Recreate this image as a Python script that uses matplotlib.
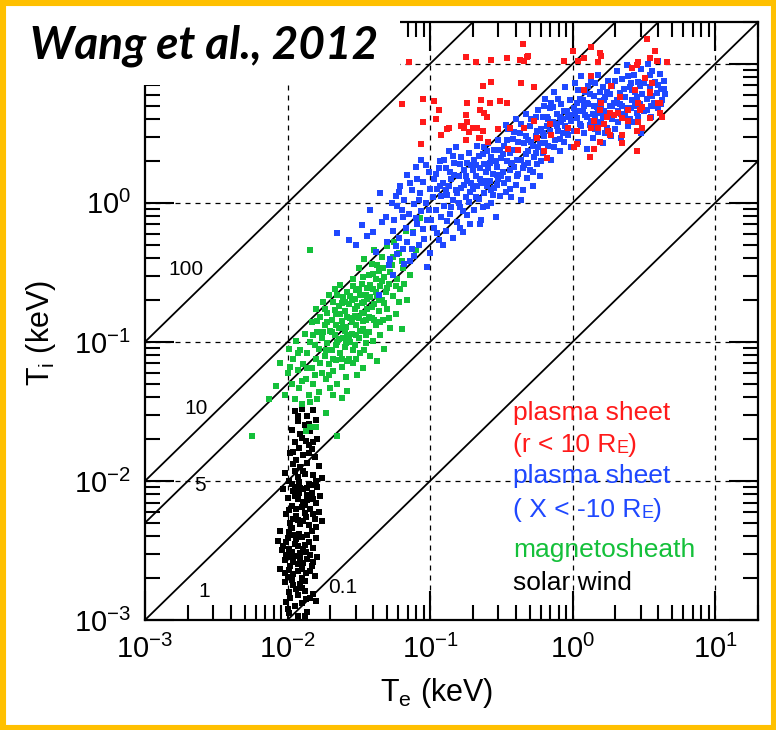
import numpy as np
import matplotlib
matplotlib.use("Agg")
import matplotlib.pyplot as plt
from matplotlib.patches import Rectangle
from matplotlib.ticker import LogLocator, NullFormatter, FixedLocator, FixedFormatter

plt.rcParams['font.family'] = ['Liberation Sans', 'DejaVu Sans']
plt.rcParams['mathtext.fontset'] = 'custom'
plt.rcParams['mathtext.rm'] = 'Liberation Sans'
plt.rcParams['mathtext.it'] = 'Liberation Sans:italic'

# ---------------- data (log10 Te, log10 Ti) in keV ----------------
red_log = [
    (-0.35, 1.14), (-0.75, 1.05), (-0.68, 1.01), (-0.57, 1.03), (-0.46, 1.04), (-0.37, 1.03),
    (-0.32, 1.05), (-0.34, 1.02), (-1.15, 1.01), (-0.57, 0.87), (-0.63, 0.84), (-0.36, 0.86),
    (-1.20, 0.71), (-1.05, 0.75), (-0.97, 0.73), (-0.74, 0.72), (-0.64, 0.74), (-0.58, 0.72),
    (-0.51, 0.73), (-0.46, 0.72), (-0.94, 0.67), (-0.65, 0.67), (-0.62, 0.65), (-0.60, 0.62),
    (-1.05, 0.58), (-0.96, 0.60), (-0.75, 0.63), (-0.74, 0.58), (-0.76, 0.54), (-0.78, 0.55),
    (-0.70, 0.54), (-0.67, 0.54), (-0.63, 0.52), (-0.88, 0.53), (-0.73, 0.51), (-0.52, 0.53),
    (-0.66, 0.47), (-0.92, 0.49), (-0.75, 0.45), (-0.65, 0.47), (-0.59, 0.44), (-1.06, 0.42),
    (-0.44, 0.54), (-0.87, 0.54), (-0.38, 0.38), (-0.45, 0.39), (-0.20, 0.37), (-0.18, 0.32),
    (-0.25, 0.47), (-0.31, 1.06), (-0.06, 1.02), (0.00, 1.09), (0.08, 1.04), (0.13, 1.12),
    (0.19, 1.08), (0.20, 1.06), (0.18, 1.01), (0.04, 1.02), (0.52, 1.18), (0.58, 1.09),
    (0.54, 1.04), (0.59, 1.02), (0.46, 1.01), (0.66, 1.01), (0.45, 0.99), (0.42, 0.97),
    (0.13, 0.91), (0.27, 0.84), (0.08, 0.81), (-0.27, 0.83), (0.51, 0.90), (0.56, 0.86),
    (0.44, 0.81), (0.54, 0.80), (0.33, 0.76), (0.46, 0.72), (0.60, 0.72), (0.20, 0.72),
    (0.19, 0.67), (0.26, 0.65), (0.29, 0.63), (0.32, 0.65), (0.24, 0.62), (0.35, 0.61),
    (0.39, 0.67), (0.47, 0.67), (0.49, 0.69), (0.39, 0.59), (0.15, 0.59), (0.22, 0.57),
    (0.18, 0.54), (0.46, 0.58), (0.54, 0.61), (0.61, 0.65), (-0.03, 0.54), (0.03, 0.52),
    (0.13, 0.54), (0.19, 0.44), (0.35, 0.49), (0.45, 0.52), (0.49, 0.54), (0.25, 0.52),
    (0.26, 0.49), (0.01, 0.40), (-0.15, 0.49), (-0.27, 0.59), (-0.16, 0.57), (-0.34, 0.54),
    (0.45, 0.37), (0.12, 0.33), (0.15, 0.39), (0.03, 0.42), (0.35, 0.43), (0.63, 0.62),
    (0.61, 0.72), (0.54, 0.79),
]

blue_log = [
    (-1.65, -0.22), (-1.57, -0.27), (-1.48, -0.16), (-1.44, -0.24), (-1.40, -0.21), (-1.34, -0.14),
    (-1.27, 0.00), (-1.30, -0.28), (-1.35, 0.07), (-1.38, -0.35), (-1.31, -0.10), (-1.28, -0.40),
    (-1.52, -0.30), (-1.42, -0.05), (-1.36, -0.66), (-1.26, -0.52), (-1.23, -0.37), (-1.29, -0.45),
    (-1.25, -0.12), (-1.24, 0.05), (-1.22, -0.25), (-1.21, 0.12), (-1.20, -0.05), (-1.19, -0.33),
    (-1.18, 0.02), (-1.17, -0.18), (-1.16, 0.20), (-1.15, -0.08), (-1.14, -0.42), (-1.13, 0.09),
    (-1.12, -0.22), (-1.11, -0.01), (-1.10, 0.26), (-1.09, -0.15), (-1.08, -0.30), (-1.07, 0.07),
    (-1.06, -0.06), (-1.05, 0.15), (-1.04, -0.26), (-1.03, 0.00), (-1.02, -0.12), (-1.01, 0.22),
    (-1.00, -0.36), (-1.00, 0.10), (-1.23, -0.02), (-1.13, -0.33), (-1.06, 0.31), (-1.18, -0.44),
    (-1.09, 0.17), (-1.02, -0.46),
    (-1.26, -0.20), (-1.22, 0.08), (-1.19, -0.10), (-1.16, -0.28), (-1.14, 0.14), (-1.11, -0.38),
    (-1.08, 0.02), (-1.05, -0.19), (-1.03, 0.27), (-1.01, -0.05), (-1.24, -0.31), (-1.10, -0.11),
    (-0.98, 0.04), (-0.97, -0.18), (-0.96, 0.21), (-0.96, -0.05), (-0.95, 0.10), (-0.94, -0.27),
    (-0.93, 0.30), (-0.92, -0.10), (-0.91, 0.14), (-0.90, -0.02), (-0.89, 0.25), (-0.89, -0.20),
    (-0.88, 0.06), (-0.87, 0.37), (-0.86, -0.08), (-0.85, 0.17), (-0.84, -0.25), (-0.84, 0.02),
    (-0.83, 0.29), (-0.82, 0.09), (-0.81, -0.14), (-0.80, 0.19), (-0.79, -0.03), (-0.78, 0.33),
    (-0.78, 0.11), (-0.77, -0.21), (-0.76, 0.24), (-0.75, 0.04), (-0.74, -0.09), (-0.74, 0.16),
    (-0.73, 0.36), (-0.72, -0.15), (-0.72, 0.08), (-0.71, 0.27), (-0.93, 0.12), (-0.86, 0.22),
    (-0.80, 0.00), (-0.76, 0.13), (-0.91, -0.30), (-0.82, 0.40),
    (-0.99, -0.12), (-0.97, 0.17), (-0.95, -0.22), (-0.92, 0.05), (-0.90, 0.31), (-0.88, -0.13),
    (-0.87, 0.12), (-0.85, -0.03), (-0.83, 0.20), (-0.81, 0.07), (-0.79, 0.28), (-0.77, -0.06),
    (-0.75, 0.19), (-0.73, 0.01), (-0.71, 0.14), (-0.94, 0.25), (-0.89, 0.09), (-0.84, 0.34),
    (-0.79, -0.18), (-0.74, 0.29),
    (-0.70, 0.10), (-0.69, 0.31), (-0.69, -0.05), (-0.68, 0.19), (-0.67, 0.41), (-0.66, 0.03),
    (-0.65, 0.25), (-0.64, -0.12), (-0.64, 0.14), (-0.63, 0.35), (-0.62, 0.07), (-0.61, 0.22),
    (-0.60, -0.02), (-0.59, 0.43), (-0.58, 0.16), (-0.58, 0.29), (-0.57, 0.00), (-0.56, 0.21),
    (-0.55, 0.38), (-0.55, 0.11), (-0.54, -0.10), (-0.53, 0.26), (-0.52, 0.17), (-0.52, 0.45),
    (-0.51, 0.05), (-0.50, 0.32), (-0.67, 0.12), (-0.62, 0.28), (-0.57, 0.09), (-0.53, 0.20),
    (-0.60, 0.37), (-0.65, -0.15),
    (-0.70, 0.24), (-0.68, 0.04), (-0.66, 0.34), (-0.65, 0.17), (-0.63, -0.03), (-0.62, 0.40),
    (-0.60, 0.12), (-0.59, 0.25), (-0.57, 0.33), (-0.56, 0.06), (-0.54, 0.30), (-0.53, 0.13),
    (-0.51, 0.38), (-0.50, 0.19), (-0.61, 0.16), (-0.68, 0.27),
    (-0.49, 0.22), (-0.48, 0.41), (-0.47, 0.08), (-0.46, 0.30), (-0.45, 0.53), (-0.45, 0.17),
    (-0.44, 0.36), (-0.43, 0.04), (-0.42, 0.46), (-0.41, 0.26), (-0.40, 0.60), (-0.40, 0.13),
    (-0.39, 0.38), (-0.38, 0.21), (-0.37, 0.50), (-0.36, 0.31), (-0.35, 0.09), (-0.34, 0.43),
    (-0.34, 0.27), (-0.33, 0.64), (-0.32, 0.18), (-0.31, 0.37), (-0.30, 0.55), (-0.30, 0.24),
    (-0.29, 0.44), (-0.28, 0.12), (-0.27, 0.33), (-0.26, 0.62), (-0.26, 0.48), (-0.25, 0.28),
    (-0.24, 0.40), (-0.23, 0.19), (-0.22, 0.53), (-0.44, 0.24), (-0.39, 0.31), (-0.33, 0.35),
    (-0.28, 0.41), (-0.36, 0.02), (-0.47, 0.56), (-0.24, 0.67),
    (-0.49, 0.35), (-0.48, 0.14), (-0.46, 0.45), (-0.44, 0.10), (-0.43, 0.29), (-0.41, 0.51),
    (-0.39, 0.19), (-0.38, 0.44), (-0.36, 0.57), (-0.35, 0.25), (-0.33, 0.48), (-0.31, 0.29),
    (-0.29, 0.60), (-0.28, 0.22), (-0.26, 0.36), (-0.25, 0.52), (-0.23, 0.43), (-0.22, 0.30),
    (-0.42, 0.38), (-0.31, 0.45),
    (-0.21, 0.36), (-0.21, 0.62), (-0.20, 0.48), (-0.19, 0.75), (-0.18, 0.55), (-0.17, 0.41),
    (-0.16, 0.68), (-0.15, 0.31), (-0.14, 0.58), (-0.13, 0.80), (-0.12, 0.45), (-0.11, 0.64),
    (-0.10, 0.52), (-0.09, 0.37), (-0.08, 0.71), (-0.07, 0.60), (-0.06, 0.44), (-0.05, 0.83),
    (-0.05, 0.55), (-0.04, 0.66), (-0.03, 0.49), (-0.02, 0.74), (-0.01, 0.40), (-0.01, 0.59),
    (-0.18, 0.62), (-0.12, 0.57), (-0.07, 0.50), (-0.03, 0.62), (-0.15, 0.72), (-0.09, 0.46),
    (-0.21, 0.50), (-0.19, 0.43), (-0.17, 0.60), (-0.16, 0.52), (-0.14, 0.69), (-0.13, 0.40),
    (-0.11, 0.55), (-0.10, 0.75), (-0.08, 0.58), (-0.06, 0.66), (-0.04, 0.52), (-0.02, 0.63),
    (-0.20, 0.70), (-0.09, 0.62),
    (0.01, 0.68), (0.01, 0.52), (0.02, 0.86), (0.03, 0.61), (0.04, 0.44), (0.05, 0.75),
    (0.05, 0.57), (0.06, 0.91), (0.07, 0.66), (0.08, 0.50), (0.09, 0.80), (0.10, 0.62),
    (0.10, 0.39), (0.11, 0.71), (0.12, 0.56), (0.13, 0.87), (0.14, 0.64), (0.14, 0.47),
    (0.15, 0.77), (0.16, 0.60), (0.17, 0.69), (0.18, 0.92), (0.18, 0.51), (0.19, 0.73),
    (0.20, 0.58), (0.21, 0.83), (0.21, 0.43), (0.22, 0.66), (0.23, 0.76), (0.24, 0.54),
    (0.25, 0.88), (0.25, 0.63), (0.26, 0.70), (0.27, 0.48), (0.03, 0.72), (0.08, 0.70),
    (0.12, 0.78), (0.16, 0.53), (0.20, 0.68), (0.24, 0.80),
    (0.02, 0.64), (0.04, 0.81), (0.06, 0.55), (0.07, 0.74), (0.09, 0.63), (0.11, 0.84),
    (0.13, 0.59), (0.15, 0.70), (0.16, 0.86), (0.17, 0.57), (0.19, 0.80), (0.21, 0.62),
    (0.22, 0.74), (0.23, 0.50), (0.26, 0.78), (0.27, 0.62), (0.05, 0.66), (0.10, 0.72),
    (0.18, 0.65), (0.14, 0.55),
    (0.28, 0.60), (0.28, 0.84), (0.29, 0.72), (0.30, 0.53), (0.31, 0.95), (0.32, 0.66),
    (0.33, 0.79), (0.34, 0.47), (0.35, 0.70), (0.35, 0.89), (0.36, 0.61), (0.37, 0.76),
    (0.38, 0.99), (0.39, 0.55), (0.40, 0.83), (0.41, 0.68), (0.42, 0.74), (0.43, 0.92),
    (0.43, 0.58), (0.44, 0.80), (0.45, 0.65), (0.46, 0.87), (0.47, 0.71), (0.48, 0.50),
    (0.48, 0.96), (0.49, 0.78), (0.31, 0.74), (0.37, 0.64), (0.41, 0.86), (0.45, 0.76),
    (0.28, 0.70), (0.30, 0.88), (0.32, 0.58), (0.33, 0.71), (0.36, 0.82), (0.38, 0.68),
    (0.39, 0.91), (0.40, 0.60), (0.42, 0.81), (0.44, 0.70), (0.46, 0.62), (0.47, 0.84),
    (0.49, 0.69), (0.34, 0.64),
    (0.50, 0.66), (0.51, 0.90), (0.52, 0.75), (0.53, 1.00), (0.54, 0.83), (0.55, 0.62),
    (0.56, 0.95), (0.57, 0.72), (0.58, 0.87), (0.59, 0.79), (0.60, 0.68), (0.61, 0.93),
    (0.62, 0.82), (0.63, 0.74), (0.64, 0.88), (0.65, 0.78), (0.55, 0.70), (0.60, 1.02),
    (0.50, 0.86), (0.52, 0.67), (0.54, 0.92), (0.56, 0.77), (0.58, 0.70), (0.60, 0.85),
    (0.62, 0.71), (0.64, 0.82),
]

green_log = [
    (-2.25, -1.68), (-2.13, -1.41), (-2.08, -1.32), (-2.05, -1.15), (-2.02, -1.38), (-2.00, -1.22),
    (-1.99, -1.05), (-1.97, -1.30), (-1.96, -1.12), (-1.95, -1.41), (-1.94, -0.99), (-1.93, -1.20),
    (-1.92, -1.33), (-1.91, -1.06), (-1.90, -1.45), (-1.89, -1.16), (-1.88, -0.94), (-1.87, -1.27),
    (-1.86, -1.08), (-1.85, -1.38), (-1.84, -1.00), (-1.84, -0.34),
    (-1.83, -1.19), (-1.83, -0.86), (-1.82, -1.30), (-1.81, -1.02), (-1.80, -0.76), (-1.80, -1.12),
    (-1.79, -0.93), (-1.78, -1.36), (-1.78, -1.05), (-1.77, -0.82), (-1.76, -1.22), (-1.76, -0.97),
    (-1.75, -0.71), (-1.74, -1.10), (-1.74, -0.88), (-1.73, -1.27), (-1.72, -1.01), (-1.72, -0.79),
    (-1.71, -1.16), (-1.70, -0.92), (-1.70, -1.33), (-1.71, -0.66),
    (-1.69, -0.84), (-1.69, -1.06), (-1.68, -0.71), (-1.68, -1.21), (-1.67, -0.95), (-1.67, -0.62),
    (-1.66, -1.13), (-1.66, -0.80), (-1.65, -1.00), (-1.65, -1.30), (-1.64, -0.74), (-1.64, -0.90),
    (-1.63, -1.08), (-1.63, -0.59), (-1.62, -0.85), (-1.62, -1.18), (-1.61, -0.97), (-1.61, -0.68),
    (-1.60, -0.78), (-1.60, -1.04), (-1.59, -0.89), (-1.59, -1.25), (-1.58, -0.64), (-1.58, -0.95),
    (-1.57, -1.12), (-1.57, -0.73), (-1.56, -0.83), (-1.56, -1.00), (-1.66, -0.88), (-1.60, -0.92),
    (-1.55, -0.70), (-1.55, -0.94), (-1.54, -0.55), (-1.54, -1.15), (-1.53, -0.81), (-1.53, -1.02),
    (-1.52, -0.63), (-1.52, -0.88), (-1.51, -1.24), (-1.51, -0.74), (-1.50, -0.47), (-1.50, -0.97),
    (-1.49, -0.66), (-1.49, -1.08), (-1.48, -0.79), (-1.48, -0.58), (-1.47, -0.91), (-1.47, -1.19),
    (-1.46, -0.71), (-1.46, -0.40), (-1.45, -0.84), (-1.45, -1.01), (-1.44, -0.61), (-1.44, -0.76),
    (-1.43, -0.93), (-1.43, -0.52), (-1.42, -0.68), (-1.42, -1.10), (-1.53, -0.76), (-1.47, -0.85),
    (-1.50, -0.83), (-1.45, -0.66),
    (-1.41, -0.83), (-1.41, -0.44), (-1.40, -0.62), (-1.40, -0.99), (-1.39, -0.73), (-1.39, -0.34),
    (-1.38, -0.55), (-1.38, -0.88), (-1.37, -0.67), (-1.37, -1.14), (-1.36, -0.49), (-1.36, -0.78),
    (-1.35, -0.60), (-1.35, -0.95), (-1.34, -0.39), (-1.34, -0.70), (-1.33, -0.84), (-1.32, -0.53),
    (-1.32, -1.05), (-1.31, -0.64), (-1.30, -0.31), (-1.30, -0.76), (-1.29, -0.58), (-1.28, -0.90),
    (-1.27, -0.45), (-1.26, -0.67), (-1.25, -0.28), (-1.24, -0.80), (-1.23, -0.55), (-1.22, -0.36),
    (-1.21, -0.62), (-1.20, -0.91), (-1.19, -0.47), (-1.17, -0.20), (-1.16, -0.70), (-1.14, -0.52),
    (-1.12, -0.21), (-1.07, -0.11), (-1.10, -0.34),
    (-1.73, -1.51), (-1.65, -1.68), (-1.84, -1.43), (-1.79, -1.41), (-1.87, -1.64), (-1.84, -1.61),
    (-1.80, -1.61), (-1.62, -1.40), (-1.68, -1.38), (-1.58, -1.35),
    (-1.98, -1.18), (-1.93, -1.08), (-1.90, -1.28), (-1.86, -1.19), (-1.82, -0.95), (-1.81, -1.24),
    (-1.79, -0.85), (-1.77, -1.15), (-1.75, -0.93), (-1.73, -1.06), (-1.72, -0.86), (-1.71, -1.24),
    (-1.69, -0.93), (-1.68, -1.12), (-1.67, -0.77), (-1.66, -1.02), (-1.65, -0.66), (-1.64, -0.98),
    (-1.63, -0.80), (-1.62, -1.12), (-1.61, -0.89), (-1.60, -0.71), (-1.59, -1.01), (-1.58, -0.82),
    (-1.57, -0.97), (-1.56, -0.67), (-1.55, -0.86), (-1.54, -1.06), (-1.53, -0.69), (-1.52, -0.95),
    (-1.51, -0.82), (-1.50, -0.62), (-1.49, -0.92), (-1.48, -0.72), (-1.47, -0.53), (-1.46, -0.79),
    (-1.45, -0.95), (-1.44, -0.69), (-1.43, -0.82), (-1.42, -0.59), (-1.41, -0.75), (-1.40, -0.51),
    (-1.39, -0.84), (-1.38, -0.64), (-1.37, -0.45), (-1.36, -0.70), (-1.35, -0.86), (-1.34, -0.56),
    (-1.33, -0.47), (-1.32, -0.72), (-1.30, -0.61), (-1.29, -0.83), (-1.28, -0.50), (-1.26, -0.39),
    (-1.24, -0.60), (-1.22, -0.71), (-1.20, -0.42), (-1.18, -0.58), (-1.58, -1.14), (-1.52, -1.12),
    (-1.46, -1.06), (-1.74, -0.76), (-1.62, -0.72), (-1.54, -0.60),
]

black_log = [
    (-1.95, -1.50), (-1.90, -1.48), (-1.86, -1.53), (-1.82, -1.49), (-1.93, -1.57), (-1.88, -1.60),
    (-1.80, -1.56), (-1.97, -1.63), (-1.91, -1.66), (-1.84, -1.64), (-1.79, -1.70), (-1.95, -1.72),
    (-1.87, -1.71), (-1.92, -1.76), (-1.83, -1.77), (-1.98, -1.80), (-1.89, -1.81), (-1.81, -1.83),
    (-1.94, -1.85), (-1.86, -1.87), (-1.78, -1.89), (-1.91, -1.90), (-1.96, -1.88), (-1.85, -1.74),
    (-2.02, -1.94), (-1.95, -1.93), (-1.88, -1.95), (-1.82, -1.96), (-1.76, -1.98), (-1.99, -2.00),
    (-1.92, -2.01), (-1.85, -2.02), (-1.79, -2.04), (-2.03, -2.06), (-1.96, -2.07), (-1.89, -2.06),
    (-1.83, -2.09), (-1.77, -2.11), (-2.00, -2.12), (-1.93, -2.13), (-1.86, -2.14), (-1.80, -2.16),
    (-1.97, -2.18), (-1.90, -2.19), (-1.84, -2.20), (-1.78, -2.22), (-2.01, -2.24), (-1.94, -2.25),
    (-1.87, -2.26), (-1.81, -2.27), (-1.98, -2.30), (-1.91, -2.31), (-1.85, -2.32), (-1.76, -2.29),
    (-1.95, -2.04), (-1.88, -2.23), (-1.83, -2.03), (-1.92, -2.09), (-1.99, -2.21), (-1.86, -2.10),
    (-1.80, -2.33), (-1.93, -2.28), (-1.89, -2.15), (-1.97, -2.34),
    (-2.05, -2.36), (-1.99, -2.37), (-1.92, -2.38), (-1.86, -2.39), (-1.80, -2.41), (-2.07, -2.43),
    (-2.01, -2.44), (-1.95, -2.45), (-1.88, -2.46), (-1.82, -2.48), (-2.04, -2.50), (-1.97, -2.51),
    (-1.91, -2.52), (-1.84, -2.53), (-1.79, -2.55), (-2.02, -2.57), (-1.96, -2.58), (-1.89, -2.59),
    (-1.83, -2.61), (-2.05, -2.63), (-1.99, -2.64), (-1.93, -2.65), (-1.87, -2.66), (-1.81, -2.68),
    (-2.00, -2.69), (-1.94, -2.42), (-1.89, -2.49), (-1.98, -2.55), (-1.86, -2.56), (-1.93, -2.60),
    (-1.96, -2.67), (-1.90, -2.70), (-2.03, -2.47),
    (-2.02, -2.73), (-1.96, -2.75), (-1.90, -2.77), (-1.99, -2.80), (-1.93, -2.82), (-1.87, -2.85),
    (-2.01, -2.87), (-1.95, -2.90), (-1.86, -2.94), (-1.99, -2.95), (-1.93, -2.97), (-1.84, -2.84),
    (-1.91, -2.74), (-1.80, -2.86),
    (-1.93, -1.53), (-1.85, -1.59), (-1.90, -1.69), (-1.82, -1.72), (-1.96, -1.79), (-1.85, -1.80),
    (-1.89, -1.93), (-1.93, -1.97), (-1.80, -2.00), (-1.97, -2.02), (-1.86, -2.05), (-1.91, -2.05),
    (-1.95, -2.11), (-1.82, -2.13), (-1.88, -2.17), (-1.94, -2.20), (-1.82, -2.24), (-1.96, -2.27),
    (-1.89, -2.29), (-1.83, -2.36), (-1.96, -2.39), (-1.90, -2.40), (-2.00, -2.41), (-1.85, -2.44),
    (-1.93, -2.47), (-1.99, -2.49), (-1.87, -2.51), (-1.94, -2.54), (-2.01, -2.53), (-1.82, -2.58),
    (-1.91, -2.56), (-1.98, -2.61), (-1.90, -2.63), (-2.02, -2.66), (-1.84, -2.65), (-1.97, -2.71),
    (-1.88, -2.72), (-1.94, -2.78), (-1.98, -2.84), (-1.90, -2.88), (-2.00, -2.92), (-1.88, -2.97),
    (-1.82, -2.81), (-1.88, -2.79),
]

ratios = [100, 10, 5, 1, 0.1]
ratio_labels = ["100", "10", "5", "1", "0.1"]
major_ticks = [1e-3, 1e-2, 1e-1, 1e0, 1e1]
x_tick_labels = [r"$10^{-3}$", r"$10^{-2}$", r"$10^{-1}$", r"$10^{0}$", r"$10^{1}$"]
y_tick_labels = [r"$10^{-3}$", r"$10^{-2}$", r"$10^{-1}$", r"$10^{0}$", ""]  # 10^1 hidden by title box
legend_lines = [
    ("plasma sheet", "red"),
    ("(r < 10 R", "red", "E", ")"),
    ("plasma sheet", "blue"),
    ("( X < -10 R", "blue", "E", ")"),
    ("magnetosheath", "green"),
    ("solar wind", "black"),
]
colors = {"red": "#ff1a1a", "blue": "#1f48ff", "green": "#14c03a", "black": "#000000"}

# ---------------- figure ----------------
W, H = 776, 730
fig = plt.figure(figsize=(W / 100, H / 100), dpi=100)
fig.patch.set_facecolor("white")

ax = fig.add_axes([145 / W, (H - 620) / H, 613 / W, 598 / H])
ax.set_xscale("log")
ax.set_yscale("log")
ax.set_xlim(1e-3, 20)
ax.set_ylim(1e-3, 20)

def pts(lst):
    a = np.array(lst, dtype=float)
    return 10 ** a[:, 0], 10 ** a[:, 1]

ms = 23
for lst, c in [(black_log, "black"), (green_log, "green"), (blue_log, "blue"), (red_log, "red")]:
    x, y = pts(lst)
    ax.scatter(x, y, s=ms, marker="s", color=colors[c], linewidths=0, zorder=3)

# grid
for v in major_ticks[1:]:
    ax.axvline(v, color="black", lw=0.9, ls=(0, (4, 4)), zorder=1)
    ax.axhline(v, color="black", lw=0.9, ls=(0, (4, 4)), zorder=1)

# ratio lines
te = np.array([1e-4, 1e3])
for k in ratios:
    ax.plot(te, k * te, color="black", lw=1.3, zorder=2)

label_pos = [(1.95e-3, 0.33), (2.3e-3, 0.033), (2.45e-3, 9.2e-3), (2.6e-3, 1.6e-3), (0.0245, 1.7e-3)]
for (lx, ly), s in zip(label_pos, ratio_labels):
    ax.text(lx, ly, s, fontsize=15, ha="center", va="center", zorder=4)

# axes styling
for sp in ax.spines.values():
    sp.set_linewidth(1.6)
ax.xaxis.set_major_locator(FixedLocator(major_ticks))
ax.yaxis.set_major_locator(FixedLocator(major_ticks))
ax.xaxis.set_major_formatter(FixedFormatter(x_tick_labels))
ax.yaxis.set_major_formatter(FixedFormatter(y_tick_labels))
ax.xaxis.set_minor_locator(LogLocator(base=10, subs=np.arange(2, 10), numticks=20))
ax.yaxis.set_minor_locator(LogLocator(base=10, subs=np.arange(2, 10), numticks=20))
ax.xaxis.set_minor_formatter(NullFormatter())
ax.yaxis.set_minor_formatter(NullFormatter())
ax.tick_params(which="both", direction="in", top=True, right=True, width=1.5)
ax.tick_params(which="major", length=21, labelsize=21, pad=10)
ax.tick_params(which="minor", length=10.5)
ax.tick_params(axis="x", which="major", pad=11)

ax.set_xlabel(r"T$_\mathregular{e}$ (keV)", fontsize=22)
ax.set_ylabel(r"T$_\mathregular{i}$ (keV)", fontsize=22)
ax.xaxis.set_label_coords((437 - 145) / 613, -(676 - 620) / 598)
ax.yaxis.set_label_coords((58 - 145) / 613, (620 - 333) / 598)

# legend-like colored text
ys = [0.334, 0.281, 0.229, 0.172, 0.105, 0.050]
for entry, yy in zip(legend_lines, ys):
    col = colors[entry[1]]
    t = ax.text(0.600, yy, entry[0], transform=ax.transAxes, fontsize=19, color=col, va="baseline", zorder=5)
    if len(entry) > 2:
        e = ax.annotate(entry[2], xy=(1, 0), xycoords=t, fontsize=13, color=col, va="bottom", zorder=5)
        ax.annotate(entry[3], xy=(1, 0), xycoords=e, fontsize=19, color=col, va="bottom", zorder=5)

# title box
box = Rectangle((8 / W, (H - 85) / H), 392 / W, 77 / H, transform=fig.transFigure,
                facecolor="white", edgecolor="none", zorder=10)
fig.add_artist(box)
fig.text(30 / W, (H - 46) / H, "Wang et al., 2012", fontsize=33, fontweight="bold", style="italic",
         family=["Lato", "DejaVu Sans"], va="center", ha="left", zorder=11)

# outer frame
frame = Rectangle((0, 0), 1, 1, transform=fig.transFigure, facecolor="none",
                  edgecolor="#ffc000", lw=8, zorder=12)
fig.add_artist(frame)

fig.savefig("out.png", dpi=100)
